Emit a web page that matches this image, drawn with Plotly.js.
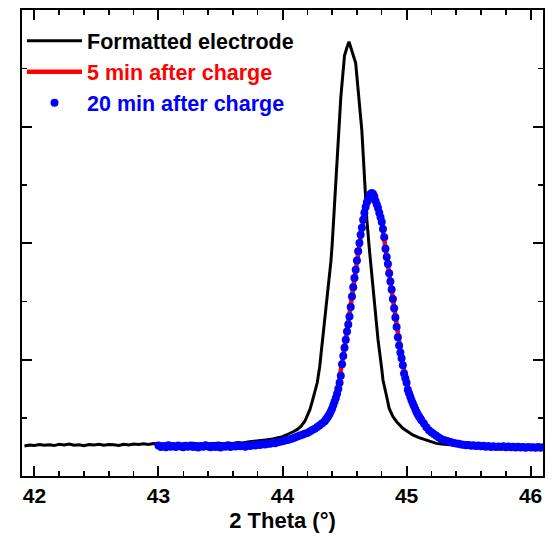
<!DOCTYPE html>
<html>
<head>
<meta charset="utf-8">
<script src="https://cdn.plot.ly/plotly-3.0.1.min.js"></script>
<style>html,body{margin:0;padding:0;background:#fff;}#chart{width:554px;height:540px;}</style>
</head>
<body>
<div id="chart"></div>
<script>
// Formatted electrode (black line)
var blackX = [41.92,41.96,42.00,42.04,42.08,42.12,42.16,42.20,42.24,42.28,42.32,42.36,42.40,42.44,42.48,42.52,42.56,42.60,42.64,42.68,42.72,42.76,42.80,42.84,42.88,42.92,42.96,43.00,43.04,43.08,43.12,43.16,43.20,43.24,43.28,43.32,43.36,43.40,43.44,43.48,43.52,43.56,43.60,43.64,43.68,43.72,43.76,43.80,43.84,43.88,43.92,43.96,44.00,44.03,44.06,44.09,44.12,44.15,44.18,44.20,44.22,44.24,44.26,44.28,44.30,44.32,44.34,44.36,44.38,44.39,44.40,44.41,44.42,44.43,44.44,44.45,44.47,44.49,44.50,44.52,44.536,44.55,44.57,44.59,44.61,44.64,44.65,44.66,44.68,44.70,44.72,44.74,44.77,44.80,44.81,44.84,44.86,44.89,44.92,44.97,45.01,45.05,45.10,45.16,45.20,45.24,45.30,45.36,45.42,45.50,45.60,45.70,45.80,45.90,46.00,46.10];
var blackY = [0.258,0.266,0.262,0.270,0.265,0.268,0.261,0.272,0.266,0.275,0.264,0.268,0.260,0.270,0.266,0.273,0.265,0.271,0.268,0.262,0.272,0.267,0.274,0.270,0.276,0.271,0.279,0.274,0.270,0.279,0.273,0.268,0.277,0.272,0.280,0.274,0.270,0.279,0.275,0.283,0.277,0.284,0.280,0.287,0.283,0.291,0.295,0.300,0.305,0.312,0.318,0.325,0.338,0.352,0.365,0.382,0.400,0.428,0.470,0.512,0.567,0.640,0.720,0.800,0.940,1.130,1.330,1.520,1.720,1.840,1.980,2.170,2.380,2.580,2.780,2.970,3.250,3.490,3.610,3.680,3.728,3.680,3.600,3.545,3.310,2.960,2.770,2.540,2.200,1.950,1.730,1.510,1.170,0.920,0.824,0.680,0.580,0.510,0.466,0.409,0.380,0.352,0.330,0.309,0.295,0.280,0.272,0.266,0.262,0.258,0.255,0.252,0.250,0.248,0.246,0.244];

// 5 min after charge (red line)
var redX = [43.00,43.10,43.20,43.30,43.40,43.50,43.60,43.70,43.80,43.90,44.00,44.08,44.16,44.22,44.28,44.32,44.36,44.40,44.44,44.48,44.52,44.56,44.60,44.64,44.68,44.70,44.72,44.74,44.76,44.80,44.84,44.88,44.92,44.96,45.00,45.04,45.08,45.12,45.16,45.20,45.26,45.32,45.40,45.50,45.60,45.70,45.80,45.90,46.00,46.10];
var redY = [0.255,0.254,0.252,0.253,0.251,0.252,0.255,0.258,0.266,0.276,0.298,0.322,0.356,0.383,0.421,0.453,0.501,0.582,0.707,0.962,1.238,1.542,1.848,2.128,2.348,2.398,2.428,2.402,2.322,2.182,1.882,1.602,1.282,1.012,0.802,0.652,0.552,0.478,0.420,0.376,0.332,0.306,0.280,0.265,0.258,0.254,0.250,0.248,0.245,0.243];

// 20 min after charge (blue dots)
var blueX = [43.00,43.02,43.04,43.06,43.08,43.10,43.12,43.14,43.16,43.18,43.20,43.22,43.24,43.26,43.28,43.30,43.32,43.34,43.36,43.38,43.40,43.42,43.44,43.46,43.48,43.50,43.52,43.54,43.56,43.58,43.60,43.62,43.64,43.66,43.68,43.70,43.72,43.74,43.76,43.78,43.80,43.82,43.84,43.86,43.88,43.90,43.92,43.94,43.96,43.98,44.00,44.02,44.04,44.06,44.08,44.10,44.12,44.14,44.16,44.18,44.20,44.22,44.24,44.26,44.28,44.30,44.32,44.34,44.35,44.36,44.37,44.38,44.39,44.40,44.41,44.42,44.43,44.44,44.45,44.46,44.47,44.48,44.49,44.50,44.51,44.52,44.53,44.54,44.55,44.56,44.57,44.58,44.59,44.60,44.61,44.62,44.63,44.64,44.65,44.66,44.67,44.68,44.69,44.70,44.71,44.72,44.73,44.74,44.75,44.76,44.77,44.78,44.79,44.80,44.81,44.82,44.83,44.84,44.85,44.86,44.87,44.88,44.89,44.90,44.91,44.92,44.93,44.94,44.95,44.96,44.97,44.98,44.99,45.00,45.01,45.02,45.03,45.04,45.05,45.06,45.07,45.08,45.09,45.10,45.11,45.12,45.14,45.16,45.18,45.20,45.22,45.24,45.26,45.28,45.30,45.32,45.34,45.36,45.38,45.40,45.42,45.44,45.46,45.48,45.50,45.52,45.54,45.56,45.58,45.60,45.62,45.64,45.66,45.68,45.70,45.72,45.74,45.76,45.78,45.80,45.82,45.84,45.86,45.88,45.90,45.92,45.94,45.96,45.98,46.00,46.02,46.04,46.06,46.08,46.10];
var blueY = [0.262,0.250,0.258,0.246,0.263,0.252,0.257,0.248,0.261,0.254,0.247,0.259,0.251,0.262,0.249,0.256,0.244,0.258,0.251,0.263,0.253,0.247,0.259,0.250,0.256,0.245,0.257,0.252,0.261,0.249,0.258,0.253,0.262,0.255,0.260,0.252,0.264,0.258,0.266,0.261,0.270,0.266,0.274,0.270,0.279,0.276,0.284,0.282,0.290,0.294,0.298,0.304,0.310,0.316,0.322,0.331,0.338,0.347,0.355,0.362,0.370,0.382,0.395,0.405,0.420,0.435,0.452,0.470,0.485,0.500,0.515,0.535,0.555,0.580,0.610,0.640,0.670,0.705,0.750,0.800,0.860,0.960,1.030,1.100,1.170,1.240,1.300,1.370,1.450,1.540,1.620,1.700,1.770,1.850,1.930,2.000,2.070,2.130,2.200,2.260,2.310,2.350,2.370,2.400,2.420,2.430,2.420,2.400,2.360,2.330,2.300,2.260,2.220,2.180,2.120,2.050,1.950,1.880,1.820,1.740,1.670,1.600,1.520,1.440,1.360,1.280,1.190,1.120,1.060,1.010,0.950,0.880,0.840,0.800,0.740,0.710,0.680,0.650,0.625,0.600,0.575,0.550,0.530,0.510,0.495,0.478,0.450,0.418,0.392,0.375,0.360,0.345,0.330,0.318,0.310,0.302,0.296,0.289,0.284,0.280,0.276,0.271,0.268,0.264,0.266,0.260,0.263,0.257,0.261,0.255,0.259,0.252,0.257,0.250,0.255,0.248,0.254,0.249,0.256,0.247,0.253,0.246,0.251,0.244,0.252,0.245,0.250,0.243,0.249,0.244,0.247,0.242,0.248,0.243,0.246,0.241];

var FONT = 'Arial, "Liberation Sans", sans-serif';

var traces = [
  {x: blackX, y: blackY, type: 'scatter', mode: 'lines', name: 'Formatted electrode',
   line: {color: '#000000', width: 3}, legendgroup: 'a'},
  {x: redX, y: redY, type: 'scatter', mode: 'lines', name: '<span style="color:#ff0000">5 min after charge</span>',
   line: {color: '#ff0000', width: 4.5}, legendgroup: 'b'},
  {x: blueX, y: blueY, type: 'scatter', mode: 'markers', name: '<span style="color:#0000ff">20 min after charge</span>',
   marker: {color: '#0000ff', size: 8}, legendgroup: 'c'}
];

var axisCommon = {
  showline: true, linecolor: '#000', linewidth: 2, mirror: 'allticks',
  ticks: 'inside', ticklen: 10, tickwidth: 2, tickcolor: '#000',
  showgrid: false, zeroline: false
};

var layout = {
  width: 554, height: 540,
  margin: {l: 22, r: 11, t: 10, b: 64},
  paper_bgcolor: '#fff', plot_bgcolor: '#fff',
  font: {family: FONT, size: 22, color: '#000'},
  showlegend: true,
  legend: {x: 0.0, y: 0.978, xanchor: 'left', yanchor: 'top', bgcolor: 'rgba(0,0,0,0)',
           font: {family: FONT, size: 21.5, weight: 'bold', color: '#000'},
           itemwidth: 55, tracegroupgap: 0},
  xaxis: Object.assign({}, axisCommon, {
    range: [41.9, 46.1], tickmode: 'linear', tick0: 42, dtick: 1,
    minor: {dtick: 0.2, ticks: 'inside', ticklen: 5, tickwidth: 1.5, tickcolor: '#000'},
    tickfont: {family: FONT, size: 21, weight: 'bold'},
    title: {text: '2 Theta (°)', font: {family: FONT, size: 22, weight: 'bold'}, standoff: 6}
  }),
  yaxis: Object.assign({}, axisCommon, {
    range: [0, 4], tickmode: 'linear', tick0: 0, dtick: 1, showticklabels: false,
    minor: {dtick: 0.5, ticks: 'inside', ticklen: 5, tickwidth: 1.5, tickcolor: '#000'}
  })
};

Plotly.newPlot('chart', traces, layout, {displayModeBar: false, staticPlot: true});
</script>
</body>
</html>
